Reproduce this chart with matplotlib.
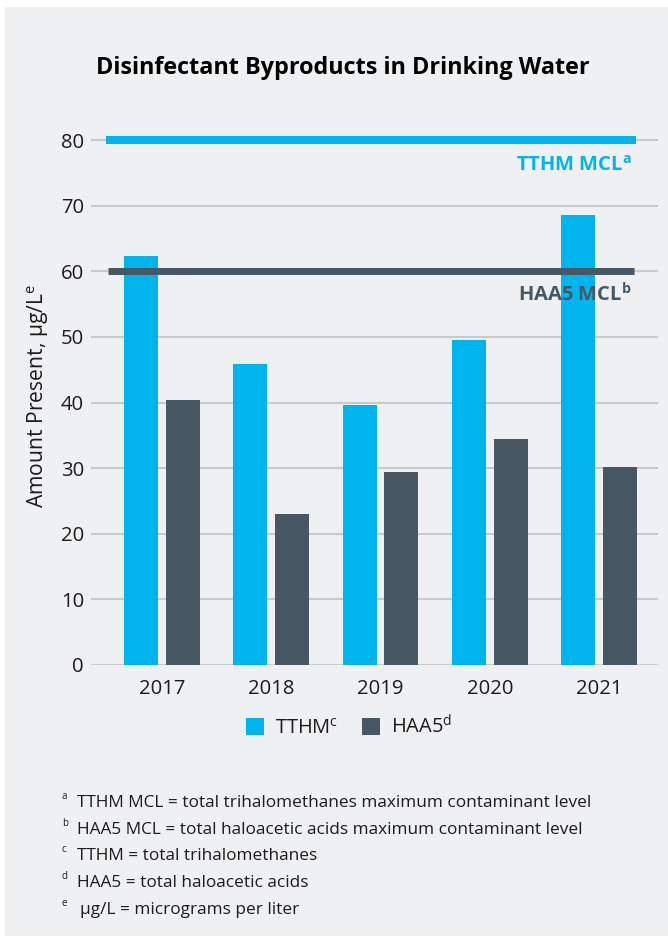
import matplotlib
matplotlib.use("Agg")
import matplotlib.pyplot as plt
from matplotlib.patches import Rectangle, Patch
import numpy as np

# ---- data ----
years = ["2017", "2018", "2019", "2020", "2021"]
tthm = [62.3, 45.8, 39.6, 49.5, 68.6]
haa5 = [40.4, 23.0, 29.4, 34.5, 30.2]
tthm_mcl = 80
haa5_mcl = 60
y_ticks = [0, 10, 20, 30, 40, 50, 60, 70, 80]
footnotes = [
    ("a", "TTHM MCL = total trihalomethanes maximum contaminant level"),
    ("b", "HAA5 MCL = total haloacetic acids maximum contaminant level"),
    ("c", "TTHM = total trihalomethanes"),
    ("d", "HAA5 = total haloacetic acids"),
    ("e", "\u00b5g/L = micrograms per liter"),
]

C_TTHM = "#00B5EE"
C_HAA5 = "#475763"
C_BG = "#EFF0F2"
C_GRID = "#C9CACC"
C_TEXT = "#1E1B1C"

plt.rcParams["font.family"] = ["Open Sans", "DejaVu Sans"]
plt.rcParams["mathtext.fontset"] = "custom"
plt.rcParams["mathtext.rm"] = "Open Sans"
plt.rcParams["mathtext.it"] = "Open Sans:italic"
plt.rcParams["mathtext.bf"] = "Open Sans:bold"

W, H = 668, 942
fig = plt.figure(figsize=(W / 100, H / 100), dpi=100)
fig.patch.set_facecolor("white")
fig.patches.append(Rectangle((5 / W, 6 / H), 1 - 5 / W, 1 - 13 / H,
                             transform=fig.transFigure, facecolor=C_BG,
                             edgecolor="none", zorder=-10))

ax = fig.add_axes([91 / W, 1 - 665 / H, 567 / W, (665 - 126.9) / H])
ax.set_facecolor(C_BG)
ax.patch.set_alpha(0)

x = np.arange(len(years))
bw = 0.311
off = 0.192
ax.bar(x - off, tthm, width=bw, color=C_TTHM, zorder=3)
ax.bar(x + off, haa5, width=bw, color=C_HAA5, zorder=3)

# MCL lines
ax.plot([-0.513, 4.34], [tthm_mcl, tthm_mcl], color=C_TTHM, lw=5.8,
        solid_capstyle="butt", zorder=4)
ax.plot([-0.49, 4.32], [haa5_mcl, haa5_mcl], color=C_HAA5, lw=5.0,
        solid_capstyle="butt", zorder=4)

ax.text(4.30, 75.4, r"TTHM MCL$^{\mathbf{a}}$", color=C_TTHM, fontsize=14.5,
        fontweight="bold", ha="right", va="baseline", zorder=5)
ax.text(4.30, 55.4, r"HAA5 MCL$^{\mathbf{b}}$", color=C_HAA5, fontsize=14.5,
        fontweight="bold", ha="right", va="baseline", zorder=5)

ax.set_xlim(-0.65, 4.54)
ax.set_ylim(0, 82)
ax.set_yticks(y_ticks)
ax.set_xticks(x)
ax.set_xticklabels(years)
ax.tick_params(axis="both", length=0, labelsize=14.6, colors=C_TEXT)
ax.tick_params(axis="y", pad=5)
ax.tick_params(axis="x", pad=10)
ax.grid(axis="y", color=C_GRID, lw=1.5, zorder=0)
ax.set_axisbelow(True)
for s in ax.spines.values():
    s.set_visible(False)

ax.set_ylabel("Amount Present, \u00b5g/L" + r"$^{\rm e}$",
              fontsize=15.2, color=C_TEXT, labelpad=7)

fig.text(343 / W, 1 - 68 / H, "Disinfectant Byproducts in Drinking Water",
         ha="center", va="center", fontsize=16.8, fontweight="bold", color="black")

handles = [Patch(facecolor=C_TTHM, edgecolor="none", label=r"TTHM$^{\rm c}$"),
           Patch(facecolor=C_HAA5, edgecolor="none", label=r"HAA5$^{\rm d}$")]
fig.legend(handles=handles, loc="center", bbox_to_anchor=(349 / W, 1 - 727 / H),
           ncol=2, frameon=False, fontsize=14.4, handlelength=0.92,
           handleheight=0.92, handletextpad=0.55, columnspacing=1.15,
           labelcolor=C_TEXT)

ys = [801.7, 828.3, 855, 881.7, 908.3]
for (sup, txt), yc in zip(footnotes, ys):
    fig.text(62 / W, 1 - (yc - 5) / H, sup, fontsize=7, color=C_TEXT,
             ha="left", va="center")
    xs = 80 if sup == "e" else 77
    fig.text(xs / W, 1 - (yc + 5.5) / H, txt, fontsize=12.4, color=C_TEXT,
             ha="left", va="baseline")

fig.savefig("out.png", dpi=100, facecolor="white")
